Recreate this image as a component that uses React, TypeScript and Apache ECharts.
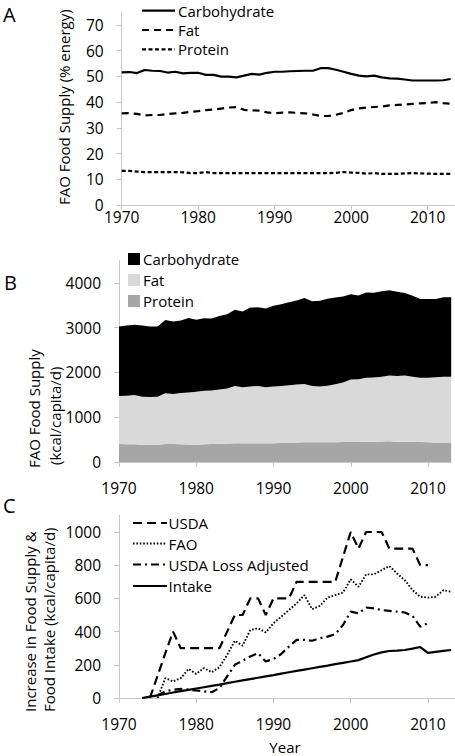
import React, { useEffect, useRef } from 'react';
import * as echarts from 'echarts';

// ---------- Panel A & B: years ----------
const years = [
  1970, 1971, 1972, 1973, 1974, 1975, 1976, 1977, 1978, 1979,
  1980, 1981, 1982, 1983, 1984, 1985, 1986, 1987, 1988, 1989,
  1990, 1991, 1992, 1993, 1994, 1995, 1996, 1997, 1998, 1999,
  2000, 2001, 2002, 2003, 2004, 2005, 2006, 2007, 2008, 2009,
  2010, 2011, 2012, 2013,
];

// Panel A: % energy
const carbPct = [
  51.6, 51.7, 51.3, 52.5, 52.2, 52.1, 51.5, 51.8, 51.2, 51.4,
  51.4, 50.6, 50.6, 49.9, 49.9, 49.6, 50.3, 51.0, 50.7, 51.4,
  51.8, 51.8, 52.0, 52.1, 52.2, 52.2, 53.2, 53.2, 52.6, 51.8,
  51.0, 50.3, 50.0, 50.3, 49.6, 49.2, 49.1, 48.8, 48.4, 48.4,
  48.4, 48.4, 48.5, 49.0,
];
const fatPct = [
  35.6, 35.7, 35.4, 34.8, 35.0, 35.0, 35.4, 35.6, 35.8, 36.2,
  36.5, 36.9, 37.1, 37.5, 37.9, 38.1, 37.0, 36.8, 36.7, 36.0,
  35.7, 35.9, 36.0, 35.8, 35.6, 35.2, 34.6, 34.6, 35.1, 35.8,
  36.9, 37.6, 37.9, 38.1, 38.3, 38.7, 38.9, 39.1, 39.3, 39.5,
  39.6, 40.0, 39.6, 39.4,
];
const proteinPct = [
  13.3, 13.3, 13.0, 12.8, 12.8, 12.8, 12.8, 12.8, 12.7, 12.4,
  12.4, 12.8, 12.4, 12.4, 12.4, 12.4, 12.4, 12.4, 12.4, 12.4,
  12.4, 12.4, 12.4, 12.4, 12.4, 12.4, 12.4, 12.4, 12.5, 12.8,
  12.6, 12.5, 12.2, 12.4, 12.1, 12.1, 12.1, 12.3, 12.4, 12.3,
  12.2, 12.1, 12.1, 12.1,
];

// Panel B: kcal/capita/d (stacked)
const proteinKcal = [
  400, 395, 398, 385, 385, 385, 400, 400, 395, 390,
  380, 395, 400, 405, 410, 420, 420, 420, 420, 420,
  420, 425, 430, 435, 440, 440, 440, 440, 440, 445,
  445, 445, 450, 455, 460, 465, 455, 450, 445, 445,
  440, 430, 425, 425,
];
const fatKcal = [
  1075, 1085, 1097, 1075, 1070, 1073, 1135, 1120, 1145, 1165,
  1190, 1195, 1195, 1215, 1235, 1280, 1250, 1265, 1280, 1250,
  1265, 1275, 1285, 1295, 1305, 1260, 1245, 1265, 1300, 1330,
  1400, 1405, 1435, 1435, 1445, 1470, 1465, 1485, 1460, 1440,
  1445, 1465, 1480, 1480,
];
const carbKcal = [
  1553, 1570, 1570, 1590, 1575, 1567, 1640, 1620, 1620, 1660,
  1610, 1620, 1610, 1640, 1655, 1700, 1690, 1765, 1755, 1760,
  1805, 1825, 1855, 1880, 1920, 1890, 1920, 1940, 1935, 1925,
  1905, 1870, 1905, 1890, 1910, 1900, 1885, 1840, 1810, 1755,
  1755, 1745, 1775, 1775,
];

// ---------- Panel C ----------
const cYears = [
  1973, 1974, 1975, 1976, 1977, 1978, 1979, 1980, 1981, 1982,
  1983, 1984, 1985, 1986, 1987, 1988, 1989, 1990, 1991, 1992,
  1993, 1994, 1995, 1996, 1997, 1998, 1999, 2000, 2001, 2002,
  2003, 2004, 2005, 2006, 2007, 2008, 2009, 2010, 2011, 2012,
  2013,
];
const usdaInc = [
  null, 0, 135, 270, 400, 300, 300, 300, 300, 300,
  300, 400, 500, 500, 600, 600, 500, 600, 600, 600,
  700, 700, 700, 700, 700, 700, 850, 1000, 900, 1000,
  1000, 1000, 900, 900, 900, 900, 800, 800, null, null,
  null,
];
const faoInc = [
  null, null, 0, 120, 100, 120, 175, 145, 180, 155,
  185, 260, 345, 315, 410, 420, 395, 450, 490, 530,
  570, 620, 535, 555, 605, 620, 635, 715, 670, 745,
  745, 770, 795, 750, 710, 650, 610, 605, 610, 650,
  640,
];
const lossAdjInc = [
  null, null, 15, 40, 50, 55, 50, 45, 40, 35,
  60, 130, 200, 225, 250, 270, 220, 235, 265, 310,
  350, 350, 345, 360, 370, 385, 440, 520, 510, 545,
  540, 530, 525, 520, 515, 495, 430, 450, null, null,
  null,
];
const intakeInc = [
  0, 8, 16, 24, 33, 41, 49, 57, 65, 73,
  81, 90, 98, 106, 114, 122, 130, 138, 147, 155,
  163, 171, 179, 187, 195, 204, 212, 220, 228, 245,
  262, 275, 283, 285, 289, 297, 307, 272, 278, 284,
  289,
];

const xTickValues = [1970, 1980, 1990, 2000, 2010];
const aTickValues = [0, 10, 20, 30, 40, 50, 60, 70];
const bTickValues = [0, 1000, 2000, 3000, 4000];
const cTickValues = [0, 200, 400, 600, 800, 1000];

const legendA = ['Carbohydrate', 'Fat', 'Protein'];
const legendB = ['Carbohydrate', 'Fat', 'Protein'];
const legendC = ['USDA', 'FAO', 'USDA Loss Adjusted', 'Intake'];

const FONT = '"Open Sans", sans-serif';
const AXIS_COLOR = '#c8c8c8';
const FS = 15;
const TICK_FS = 15.5;
const LW = 2.2;

const DASH_FAT = [7, 5];
const DASH_PROTEIN = [4, 2.5];
const DASH_USDA = [9, 5];
const DASH_FAO = [1.6, 1.8];
const DASH_LOSS = [8, 4, 2, 4];

const COLOR_CARB = '#000000';
const COLOR_FAT = '#d9d9d9';
const COLOR_PROT = '#a6a6a6';

function pairs(xs: number[], vs: (number | null)[]) {
  return xs.map((x, i) => [x, vs[i]]).filter((d) => d[1] !== null);
}

const labelFmt = (v: any) => String(v);

function makeX(gridIndex: number, margin: number) {
  return {
    type: 'value',
    gridIndex,
    min: 1970,
    max: 2013.5,
    interval: 10,
    axisLine: { show: true, onZero: false, lineStyle: { color: AXIS_COLOR, width: 1 } },
    axisTick: { show: true, length: 5, lineStyle: { color: AXIS_COLOR }, customValues: xTickValues },
    axisLabel: {
      show: true, margin, fontFamily: FONT, fontSize: TICK_FS, color: '#000',
      customValues: xTickValues, formatter: labelFmt,
    },
    splitLine: { show: false },
  };
}

function makeY(gridIndex: number, max: number, interval: number, ticks: number[]) {
  return {
    type: 'value',
    gridIndex,
    min: 0,
    max,
    interval,
    axisLine: { show: true, onZero: false, lineStyle: { color: AXIS_COLOR, width: 1 } },
    axisTick: { show: true, length: 5, lineStyle: { color: AXIS_COLOR }, customValues: ticks },
    axisLabel: {
      show: true, margin: 18, fontFamily: FONT, fontSize: TICK_FS, color: '#000',
      customValues: ticks, formatter: labelFmt,
    },
    splitLine: { show: false },
  };
}

function lineSeries(name: string, xi: number, data: any[], type: any, width = LW) {
  return {
    type: 'line',
    name,
    xAxisIndex: xi,
    yAxisIndex: xi,
    data,
    symbol: 'none',
    showSymbol: false,
    lineStyle: { color: '#000', width, type, cap: 'butt' },
    itemStyle: { color: '#000' },
    emphasis: { disabled: true },
  };
}

function areaSeries(name: string, data: number[], color: string) {
  return {
    type: 'line',
    name,
    xAxisIndex: 1,
    yAxisIndex: 1,
    stack: 'kcal',
    data,
    symbol: 'none',
    showSymbol: false,
    lineStyle: { width: 0, color },
    areaStyle: { color, opacity: 1 },
    itemStyle: { color },
    emphasis: { disabled: true },
  };
}

function rotText(text: string, x: number, y: number, size = FS) {
  return {
    type: 'text',
    x,
    y,
    rotation: Math.PI / 2,
    style: { text, fontFamily: FONT, fontSize: size, fill: '#000', align: 'left', verticalAlign: 'middle' },
  };
}

function plainText(text: string, x: number, y: number, size: number, align = 'left') {
  return {
    type: 'text',
    x,
    y,
    style: { text, fontFamily: FONT, fontSize: size, fill: '#000', align, verticalAlign: 'middle' },
  };
}

function legendLine(x1: number, x2: number, y: number, dash: any) {
  return {
    type: 'line',
    shape: { x1, y1: y, x2, y2: y },
    style: { stroke: '#000', lineWidth: LW, lineDash: dash, lineCap: 'butt' },
  };
}

function legendRect(x: number, y: number, color: string) {
  return {
    type: 'rect',
    shape: { x, y: y - 6, width: 12, height: 12 },
    style: { fill: color },
  };
}

const aRows = [10.7, 30, 49.3];
const bRows = [259, 280, 301];
const cRows = [523, 543.5, 564.5, 586];

const option: any = {
  animation: false,
  backgroundColor: '#fff',
  grid: [
    { left: 121.7, top: 12.1, width: 332.8, height: 192.9 },
    { left: 119, top: 260.6, width: 332.2, height: 201.4 },
    { left: 119, top: 515.4, width: 336, height: 182.6 },
  ],
  xAxis: [
    makeX(0, 4),
    {
      type: 'category',
      gridIndex: 1,
      data: years.map(String),
      boundaryGap: false,
      axisLine: { show: true, onZero: false, lineStyle: { color: AXIS_COLOR, width: 1 } },
      axisTick: { show: true, length: 5, interval: 9, lineStyle: { color: AXIS_COLOR } },
      axisLabel: { show: true, interval: 9, margin: 18, fontFamily: FONT, fontSize: TICK_FS, color: '#000' },
      splitLine: { show: false },
    },
    makeX(2, 18),
  ],
  yAxis: [
    makeY(0, 75, 10, aTickValues),
    makeY(1, 4500, 1000, bTickValues),
    makeY(2, 1100, 200, cTickValues),
  ],
  series: [
    lineSeries('Carbohydrate', 0, pairs(years, carbPct), 'solid'),
    lineSeries('Fat', 0, pairs(years, fatPct), DASH_FAT),
    lineSeries('Protein', 0, pairs(years, proteinPct), DASH_PROTEIN),
    areaSeries('Protein', proteinKcal, COLOR_PROT),
    areaSeries('Fat', fatKcal, COLOR_FAT),
    areaSeries('Carbohydrate', carbKcal, COLOR_CARB),
    lineSeries('USDA', 2, pairs(cYears, usdaInc), DASH_USDA),
    lineSeries('FAO', 2, pairs(cYears, faoInc), DASH_FAO, 1.9),
    lineSeries('USDA Loss Adjusted', 2, pairs(cYears, lossAdjInc), DASH_LOSS),
    lineSeries('Intake', 2, pairs(cYears, intakeInc), 'solid'),
  ],
  graphic: [
    plainText('A', 3, 14, 20),
    plainText('B', 4, 282, 20),
    plainText('C', 3, 505, 20),
    rotText('FAO Food Supply (% energy)', 63.5, 205),
    rotText('FAO Food Supply', 33.5, 468),
    rotText('(kcal/capita/d)', 55, 465),
    rotText('Increase in Food Supply &', 30, 712),
    rotText('Food Intake (kcal/capita/d)', 49, 712),
    plainText('Year', 285, 747, FS, 'center'),
    // legend A
    legendLine(142, 175, aRows[0], null),
    legendLine(142, 175, aRows[1], DASH_FAT),
    legendLine(142, 175, aRows[2], DASH_PROTEIN),
    plainText(legendA[0], 178, aRows[0], FS),
    plainText(legendA[1], 178, aRows[1], FS),
    plainText(legendA[2], 178, aRows[2], FS),
    // legend B
    legendRect(128, bRows[0], COLOR_CARB),
    legendRect(128, bRows[1], COLOR_FAT),
    legendRect(128, bRows[2], COLOR_PROT),
    plainText(legendB[0], 143, bRows[0], FS),
    plainText(legendB[1], 143, bRows[1], FS),
    plainText(legendB[2], 143, bRows[2], FS),
    // legend C
    legendLine(133, 167, cRows[0], DASH_USDA),
    legendLine(133, 167, cRows[1], DASH_FAO),
    legendLine(133, 167, cRows[2], DASH_LOSS),
    legendLine(133, 167, cRows[3], null),
    plainText(legendC[0], 168.5, cRows[0], FS),
    plainText(legendC[1], 168.5, cRows[1], FS),
    plainText(legendC[2], 168.5, cRows[2], FS),
    plainText(legendC[3], 168.5, cRows[3], FS),
  ],
};

export default function App() {
  const ref = useRef<HTMLDivElement>(null);
  useEffect(() => {
    if (!ref.current) return;
    const chart = echarts.init(ref.current, null, { renderer: 'svg' });
    chart.setOption(option);
    return () => chart.dispose();
  }, []);
  return (
    <div
      ref={ref}
      style={{ position: 'fixed', left: 0, top: 0, width: 455, height: 756, background: '#fff' }}
    />
  );
}
